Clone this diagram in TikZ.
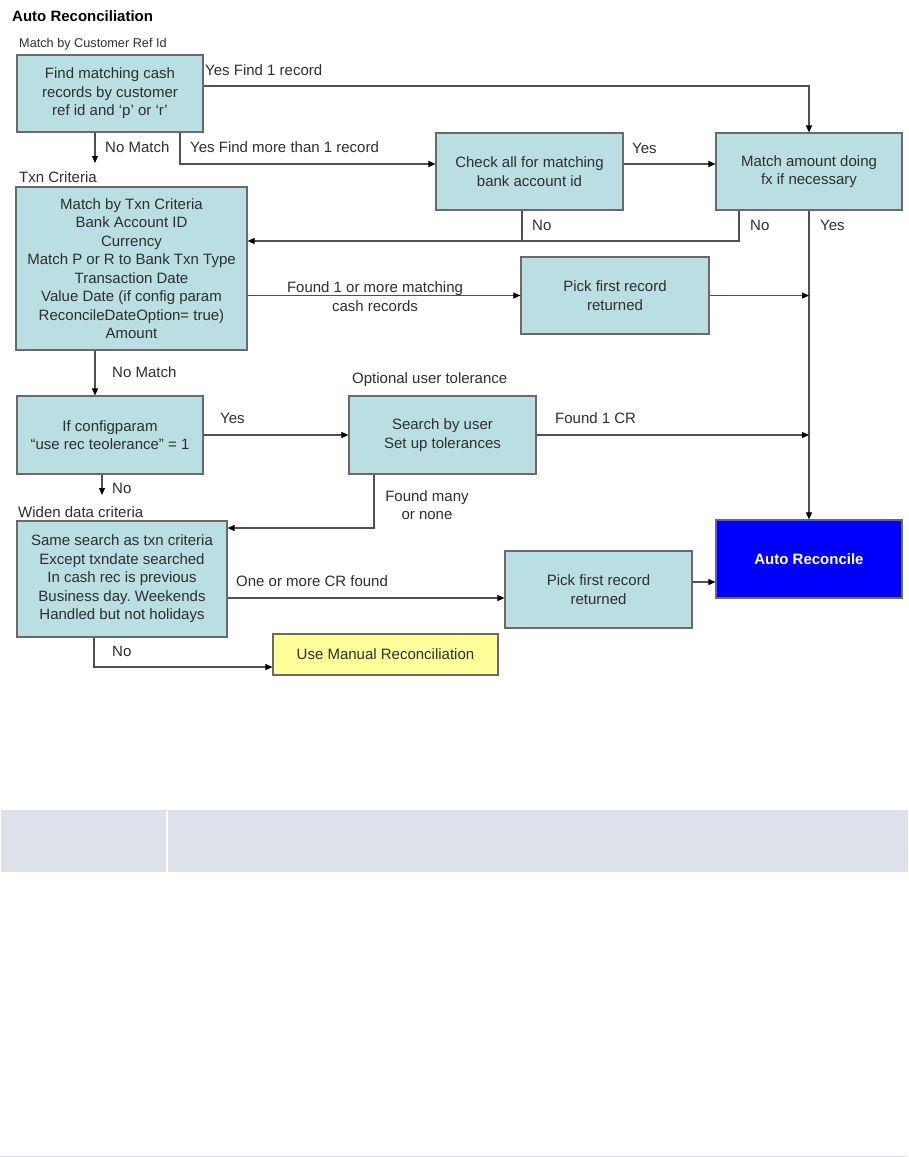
\documentclass[tikz,border=0pt]{standalone}
\usepackage{fontspec}
\setmainfont{Liberation Sans}
\usetikzlibrary{arrows.meta,positioning}
\frenchspacing

\definecolor{boxfill}{HTML}{B9DFE2}
\definecolor{boxline}{HTML}{6A6A6A}
\definecolor{wire}{HTML}{505050}
\definecolor{txt}{HTML}{2E2E2E}
\definecolor{autoblue}{HTML}{0000FF}
\definecolor{manualyellow}{HTML}{FFFF99}
\definecolor{band}{HTML}{DDE1EA}

\begin{document}
\begin{tikzpicture}[
    x=1pt, y=-1pt,
    every node/.style={font=\fontsize{15}{18.5}\selectfont, text=txt},
    proc/.style={draw=boxline, fill=boxfill, line width=1.2pt, align=center, inner sep=0pt},
    lbl/.style={anchor=west, inner sep=0pt},
    arr/.style={draw=wire, line width=1.1pt, -{Triangle[length=7pt,width=6pt,color=black]}},
    wire/.style={draw=wire, line width=1.1pt}
    ]
    \useasboundingbox (0,0) rectangle (908,1157);

    % boxes
    \node[proc, minimum width=186pt, minimum height=77pt] (custref) at (110,93.5)
        {Find matching cash\\records by customer\\ref id and ‘p’ or ‘r’};
    \node[proc, minimum width=187pt, minimum height=77pt] (bankacc) at (529.5,171.5)
        {Check all for matching\\bank account id};
    \node[proc, minimum width=186pt, minimum height=77pt] (amount) at (809,171.5)
        {Match amount doing\\fx if necessary};
    \node[proc, minimum width=231pt, minimum height=163pt] (txncrit) at (131.5,268.5)
        {Match by Txn Criteria\\Bank Account ID\\Currency\\Match P or R to Bank Txn Type\\Transaction Date\\Value Date (if config param\\ReconcileDateOption= true)\\Amount};
    \node[proc, minimum width=188pt, minimum height=77pt] (pickA) at (615,295.5)
        {Pick first record\\returned};
    \node[proc, minimum width=186pt, minimum height=78pt] (ifcfg) at (110,435)
        {If configparam\\“use rec teolerance” = 1};
    \node[proc, minimum width=187pt, minimum height=78pt] (usertol) at (442.5,435)
        {Search by user\\Set up tolerances};
    \node[proc, minimum width=210pt, minimum height=116pt] (widen) at (122,579)
        {Same search as txn criteria\\Except txndate searched\\In cash rec is previous\\Business day. Weekends\\Handled but not holidays};
    \node[proc, minimum width=187pt, minimum height=77pt] (pickB) at (598.5,589.5)
        {Pick first record\\returned};
    \node[proc, fill=autoblue, minimum width=186pt, minimum height=78pt, text=white,
        font=\fontsize{15}{18.5}\selectfont\bfseries] (autorec) at (809,559) {Auto Reconcile};
    \node[proc, fill=manualyellow, minimum width=225pt, minimum height=41pt] (manual) at (385.5,654.5)
        {Use Manual Reconciliation};

    % headings
    \node[lbl, font=\fontsize{15}{18.5}\selectfont\bfseries, text=black] (title) at (12,16) {Auto Reconciliation};
    \node[lbl, font=\fontsize{12.7}{15}\selectfont] (hcust) at (19,44) {Match by Customer Ref Id};
    \node[lbl] (htxn) at (19,177) {Txn Criteria};
    \node[lbl] (htol) at (352,380) {Optional user tolerance};
    \node[lbl] (hwiden) at (18,512) {Widen data criteria};

    % connectors
    \coordinate (nmA) at (95,163);
    \coordinate (nmB) at (102,495);
    \coordinate (nojoin) at (522,241);
    \draw[arr] ([yshift=7.5pt]custref.east) -| (amount.north);
    \draw[arr] ([xshift=-15pt]custref.south) -- (nmA);
    \draw[arr] ([xshift=70pt]custref.south) |- ([yshift=7.5pt]bankacc.west);
    \draw[arr] ([yshift=7.5pt]bankacc.east) -- ([yshift=7.5pt]amount.west);
    \draw[wire] (bankacc.south -| nojoin) -- (nojoin);
    \draw[arr] ([xshift=-70pt]amount.south) |- ([yshift=27.5pt]txncrit.east);
    \draw[arr] (amount.south) -- (autorec.north);
    \draw[arr] (txncrit.east |- pickA.west) -- (pickA.west);
    \draw[arr] (pickA.east) -- (pickA.east -| autorec.north);
    \draw[arr] ([xshift=-36.5pt]txncrit.south) -- ([xshift=-15pt]ifcfg.north);
    \draw[arr] (ifcfg.east) -- (usertol.west);
    \draw[arr] (usertol.east) -- (usertol.east -| autorec.north);
    \draw[arr] (ifcfg.south -| nmB) -- (nmB);
    \draw[arr] ([xshift=-68.5pt]usertol.south) |- ([yshift=51pt]widen.east);
    \draw[arr] ([yshift=-19pt]widen.east) -- ([yshift=-19pt]widen.east -| pickB.west);
    \draw[arr] ([yshift=7.5pt]pickB.east) -- ([yshift=7.5pt]pickB.east -| autorec.west);
    \draw[arr] ([xshift=-28pt]widen.south) |- ([yshift=-12.5pt]manual.west);

    % connector labels
    \node[lbl] at (205,70) {Yes Find 1 record};
    \node[lbl] at (105,147) {No Match};
    \node[lbl] at (190,147) {Yes Find more than 1 record};
    \node[lbl] at (632,148) {Yes};
    \node[lbl] at (532,225) {No};
    \node[lbl] at (750,225) {No};
    \node[lbl] at (820,225) {Yes};
    \node[align=center, inner sep=0pt] at (375,296.5) {Found 1 or more matching\\cash records};
    \node[lbl] at (112,372) {No Match};
    \node[lbl] at (220,418) {Yes};
    \node[lbl] at (555,418) {Found 1 CR};
    \node[lbl] at (112,488) {No};
    \node[align=center, inner sep=0pt] at (427,505) {Found many\\or none};
    \node[lbl] at (236,581) {One or more CR found};
    \node[lbl] at (112,651) {No};

    % grey band below the chart
    \fill[band] (1,810) rectangle (908,872);
    \draw[white, line width=1.5pt] (167,811) -- (167,872);
    \draw[band, line width=1pt] (0,1156) -- (908,1156);
\end{tikzpicture}
\end{document}
